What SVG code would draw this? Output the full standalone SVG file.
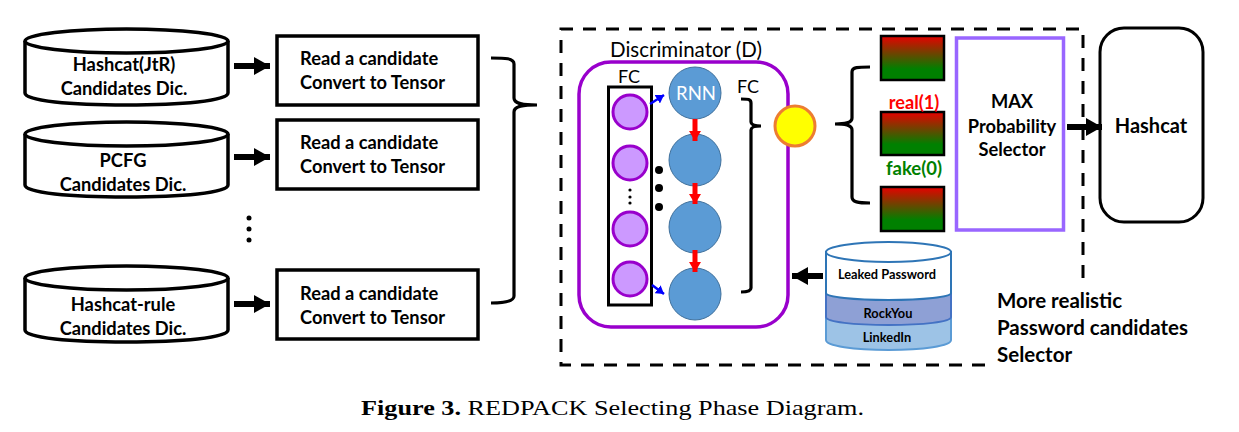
<svg xmlns="http://www.w3.org/2000/svg" width="1239" height="432" viewBox="0 0 1239 432">
<style>
text{font-family:Lato,"Liberation Sans",sans-serif;fill:#000}
.b{font-weight:700;font-size:18.300px}
.m{text-anchor:middle}
.cyl{fill:#fff;stroke:#000;stroke-width:3.5}
.box{fill:#fff;stroke:#000;stroke-width:3.5}
.br{fill:none;stroke:#000;stroke-width:3.2}
.pc{fill:#CC99FF;stroke:#9900CC;stroke-width:3}
.bc{fill:#5B9BD5;stroke:#41719C;stroke-width:1}
.gr{fill:url(#rg);stroke:#000;stroke-width:2.5}
.ra{stroke:#f00;stroke-width:5;fill:none;marker-end:url(#mr)}
.ba{stroke:#00f;stroke-width:2.500;fill:none;marker-end:url(#mb)}
.ka{stroke:#000;stroke-width:6;fill:none;marker-end:url(#mk)}
</style>
<defs>
<linearGradient id="rg" x1="0" y1="0" x2="0" y2="1"><stop offset="0" stop-color="#E80000"/><stop offset="0.75" stop-color="#008000"/></linearGradient>
<marker id="mr" markerUnits="userSpaceOnUse" markerWidth="12" markerHeight="12" refX="10" refY="6" orient="auto"><path d="M0 0L10 6L0 12Z" fill="#f00"/></marker>
<marker id="mb" markerUnits="userSpaceOnUse" markerWidth="9" markerHeight="10" refX="8" refY="5" orient="auto"><path d="M0 0L8 5L0 10Z" fill="#00f"/></marker>
<marker id="mk" markerUnits="userSpaceOnUse" markerWidth="16" markerHeight="18" refX="16" refY="9" orient="auto"><path d="M0 0L16 9L0 18Z" fill="#000"/></marker>
</defs>
<rect width="1239" height="432" fill="#fff"/>

<g id="dashed-frame"><path d="M985 365H561V29H1083V282" fill="none" stroke="#000" stroke-width="3" stroke-dasharray="13 10"/></g>

<g id="cyl1"><path class="cyl" d="M25 41V93C25 101 71 105 126 105S228 101 228 93V41" /><ellipse class="cyl" cx="126.500" cy="41" rx="101.500" ry="12"/><text class="b m" x="124" y="71">Hashcat(JtR)</text><text class="b m" x="124" y="95">Candidates Dic.</text></g>
<g id="cyl2"><path class="cyl" d="M25 134V185C25 193 71 197 126 197S228 193 228 185V134"/><ellipse class="cyl" cx="126.500" cy="134" rx="101.500" ry="12"/><text class="b m" x="123" y="167">PCFG</text><text class="b m" x="123" y="191">Candidates Dic.</text></g>
<g id="cyl3"><path class="cyl" d="M25 278V330C25 338 71 342 126 342S228 338 228 330V278"/><ellipse class="cyl" cx="126.500" cy="278" rx="101.500" ry="12"/><text class="b m" x="123" y="311">Hashcat-rule</text><text class="b m" x="123" y="335">Candidates Dic.</text></g>

<g id="read1"><rect class="box" x="277" y="36" width="201" height="69"/><text class="b" x="300" y="65">Read a candidate</text><text class="b" x="300" y="89">Convert to Tensor</text></g>
<g id="read2"><rect class="box" x="277" y="120" width="201" height="69"/><text class="b" x="300" y="149">Read a candidate</text><text class="b" x="300" y="173">Convert to Tensor</text></g>
<g id="read3"><rect class="box" x="277" y="270" width="201" height="69"/><text class="b" x="300" y="300">Read a candidate</text><text class="b" x="300" y="324">Convert to Tensor</text></g>

<g id="discriminator"><rect x="579" y="62" width="209" height="265" rx="32" fill="#fff" stroke="#9900CC" stroke-width="3.500"/><text x="686" y="57" class="m" font-size="20.500">Discriminator (D)</text></g>

<g id="fc-layer"><rect x="608.500" y="87" width="43" height="218" fill="#fff" stroke="#000" stroke-width="3"/><text x="629" y="83" class="m" font-size="18">FC</text>
<circle class="pc" cx="630" cy="112" r="17"/><circle class="pc" cx="630" cy="163" r="17"/><circle class="pc" cx="630" cy="229" r="17"/><circle class="pc" cx="630" cy="279" r="17"/>
<circle cx="630" cy="190" r="1.600"/><circle cx="630" cy="197" r="1.600"/><circle cx="630" cy="203" r="1.600"/></g>

<g id="rnn"><circle class="bc" cx="695" cy="93" r="26"/><circle class="bc" cx="695" cy="160" r="26"/><circle class="bc" cx="695" cy="227" r="26"/><circle class="bc" cx="695" cy="294" r="26"/><text x="696" y="100" class="m" font-size="18.500" style="fill:#fff">RNN</text>
<circle cx="659" cy="170" r="4"/><circle cx="659" cy="188" r="4"/><circle cx="659" cy="207" r="4"/></g>

<g id="output-node"><circle cx="795" cy="126" r="20" fill="#ff0" stroke="#ED7D31" stroke-width="3"/></g>

<g id="scores"><rect class="gr" x="881" y="36" width="63" height="44"/><rect class="gr" x="881" y="112" width="63" height="43"/><rect class="gr" x="881" y="187" width="63" height="44"/>
<text class="m" x="914" y="109" font-size="18.200" font-weight="700" style="fill:#f00">real(1)</text><text class="m" x="914" y="175" font-size="18.500" font-weight="700" style="fill:#008000">fake(0)</text></g>

<g id="max-selector"><rect x="956.500" y="38" width="107" height="192" fill="#fff" stroke="#9966FF" stroke-width="3.500"/><text class="b m" x="1012" y="108">MAX</text><text class="b m" x="1012" y="133">Probability</text><text class="b m" x="1012" y="156">Selector</text></g>

<g id="hashcat"><rect x="1100" y="28" width="103" height="194" rx="24" fill="#fff" stroke="#000" stroke-width="3"/><text class="m" x="1151" y="133" font-size="20" font-weight="700">Hashcat</text></g>

<g id="leaked"><path d="M826 316V340C826 346 854 350 888.500 350S951 346 951 340V316Z" fill="#9DC3E6" stroke="#5B9BD5" stroke-width="2"/>
<path d="M826 293V317C826 322 854 325 888.500 325S951 322 951 317V293Z" fill="#8EA0D5" stroke="#4472C4" stroke-width="2"/>
<path d="M826 252V293C826 297 854 300 888.500 300S951 297 951 293V252Z" fill="#fff" stroke="#2E75B6" stroke-width="2"/>
<ellipse cx="888.500" cy="252" rx="62.500" ry="10" fill="#fff" stroke="#2E75B6" stroke-width="2"/>
<text class="m" x="887" y="279" font-size="12.800" font-weight="700">Leaked Password</text><text class="m" x="888" y="318" font-size="12.800" font-weight="700">RockYou</text><text class="m" x="887" y="342" font-size="12.800" font-weight="700">LinkedIn</text></g>

<g id="connectors">
<path class="ka" d="M234 66H270"/><path class="ka" d="M234 157H270"/><path class="ka" d="M234 304H270"/>
<circle cx="249" cy="218" r="2.500"/><circle cx="249" cy="229" r="2.500"/><circle cx="249" cy="240" r="2.500"/>
<path class="br" d="M491 58C505 58 514 58 514 64V98C514 103 520 105 537 105C520 105 514 107 514 112V296C514 301 505 303 491 303"/>
<path class="br" d="M741 99C748 99 751 99 751 103V122C751 125 754 126 761 126C754 126 751 127 751 130V288C751 291 748 292 741 292"/>
<path class="br" d="M870 67C858 67 852 67 852 72V118C852 122 848 124 835 124C848 124 852 126 852 130V197C852 202 858 203 870 203"/>
<path class="ra" d="M695 119V141"/><path class="ra" d="M695 183V204"/><path class="ra" d="M695 250V272"/>
<path class="ba" d="M650 104L664 95"/><path class="ba" d="M652 285L664 294"/>
<path class="ka" d="M823 276H792"/><path class="ka" d="M1067 127H1102"/>
</g>

<g id="labels">
<text class="m" x="748" y="93" font-size="18">FC</text>
<text x="997" y="308" font-size="20.500" font-weight="700">More realistic</text><text x="997" y="335" font-size="20.500" font-weight="700">Password candidates</text><text x="997" y="362" font-size="20.500" font-weight="700">Selector</text>
<text x="361" y="415" style="font-family:'Liberation Serif',serif" font-size="22" textLength="503" lengthAdjust="spacingAndGlyphs"><tspan font-weight="700">Figure 3.</tspan> REDPACK Selecting Phase Diagram.</text>
</g>
</svg>
